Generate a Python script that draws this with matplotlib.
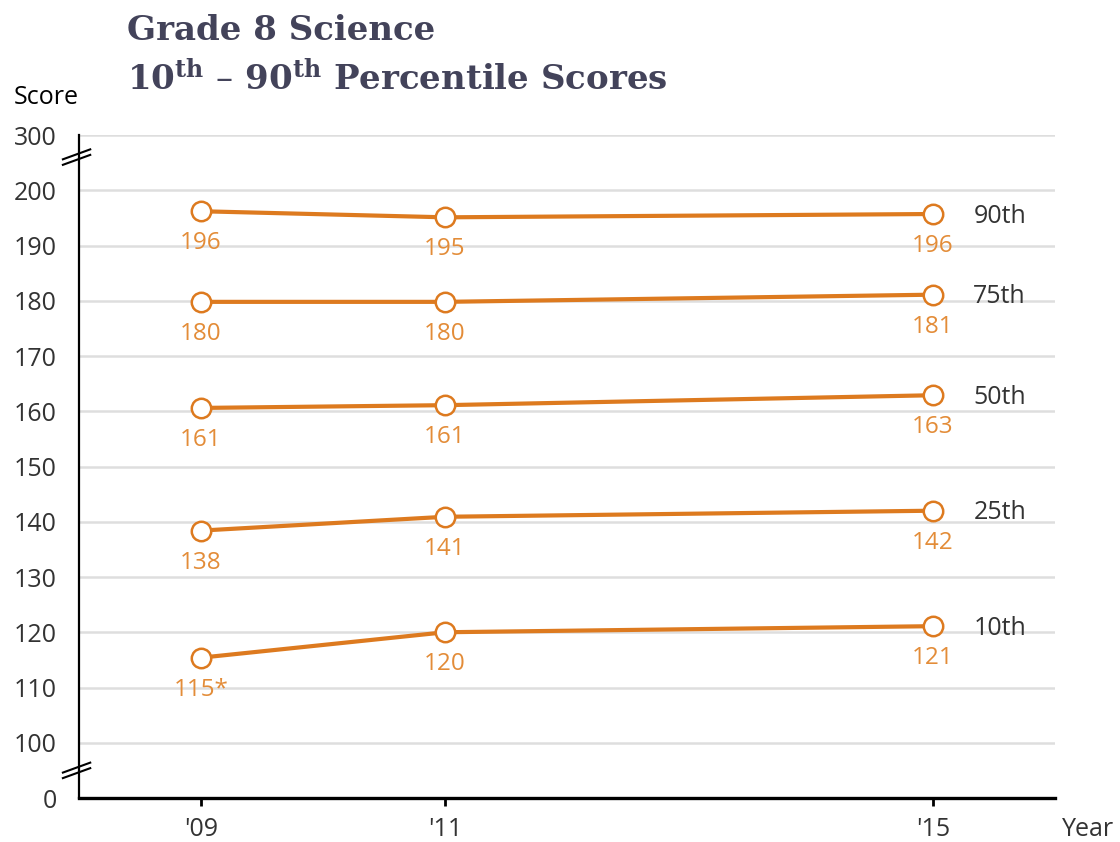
"""
Grade 8 Science -- 10th to 90th percentile scores, '09 / '11 / '15.
Broken y axis (0 .. 100 .. 200 .. 300) drawn on a linear scale.
"""

import matplotlib
matplotlib.use("Agg")
import matplotlib.pyplot as plt
from matplotlib.transforms import blended_transform_factory

# data
years = [2009, 2011, 2015]
year_labels = ["'09", "'11", "'15"]
percentiles = ["90th", "75th", "50th", "25th", "10th"]
p90 = [196.2, 195.1, 195.7]
p75 = [179.8, 179.8, 181.1]
p50 = [160.6, 161.1, 162.9]
p25 = [138.4, 140.9, 142.0]
p10 = [115.4, 120.0, 121.1]
labels90 = ["196", "195", "196"]
labels75 = ["180", "180", "181"]
labels50 = ["161", "161", "163"]
labels25 = ["138", "141", "142"]
labels10 = ["115*", "120", "121"]

# y axis: 90 stands in for 0 and 210 for 300 (axis breaks)
ytick_pos = [90, 100, 110, 120, 130, 140, 150, 160, 170, 180, 190, 200, 210]
ytick_lab = ["0", "100", "110", "120", "130", "140", "150", "160", "170",
             "180", "190", "200", "300"]

LINE = "#DD7A1F"
LABEL = "#E38C38"
DARK = "#333333"
TITLE = "#43435A"
W, H = 1120, 842

plt.rcParams["font.family"] = ["Open Sans", "DejaVu Sans"]
plt.rcParams["mathtext.fontset"] = "dejavuserif"

fig = plt.figure(figsize=(W / 100, H / 100), dpi=100)
ax = fig.add_axes([79 / W, (H - 798) / H, (1055 - 79) / W, (798 - 135) / H])

series = [p90, p75, p50, p25, p10]
series_labels = [labels90, labels75, labels50, labels25, labels10]
for name, vals, labs in zip(percentiles, series, series_labels):
    ax.plot(years, vals, color=LINE, lw=3, marker="o", ms=14,
            mfc="white", mec=LINE, mew=1.8, zorder=3, clip_on=False)
    for x, y, t in zip(years, vals, labs):
        ax.annotate(t, (x, y), xytext=(0, -23), textcoords="offset points",
                    ha="center", va="center", fontsize=17.5, color=LABEL)
    ax.annotate(name, (years[-1], vals[-1]), xytext=(29, -1.5),
                textcoords="offset points", ha="left", va="center",
                fontsize=18, color=DARK)

ax.set_xlim(2008, 2016)
ax.set_ylim(90, 210)
ax.set_xticks(years, year_labels)
ax.set_yticks(ytick_pos, ytick_lab)
ax.tick_params(axis="x", length=6, width=2, color="black", pad=8,
               labelsize=18, labelcolor=DARK)
ax.tick_params(axis="y", length=0, pad=16, labelsize=18, labelcolor=DARK)
ax.grid(axis="y", color="#DEDEDE", lw=1.8)
ax.set_axisbelow(True)
for s in ["top", "right"]:
    ax.spines[s].set_visible(False)
ax.spines["left"].set_linewidth(1.6)
ax.spines["bottom"].set_linewidth(2.4)

# axis break marks
tr = blended_transform_factory(ax.transAxes, ax.transData)
for yb in [206, 95]:
    for off in [-0.5, 0.5]:
        ax.plot([-0.0165, 0.0115], [yb + off - 0.9, yb + off + 0.9],
                color="black", lw=1.5, transform=tr, clip_on=False, zorder=4)

# titles and axis names
fig.text(127 / W, 1 - 40 / H, "Grade 8 Science", fontsize=24.5,
         fontweight="bold", family="DejaVu Serif", color=TITLE, va="baseline")
fig.text(127 / W, 1 - 90 / H,
         r"10$^{\mathbf{th}}$ – 90$^{\mathbf{th}}$ Percentile Scores",
         fontsize=24.5, fontweight="bold", family="DejaVu Serif", color=TITLE,
         va="baseline")
fig.text(14 / W, 1 - 98 / H, "Score", fontsize=18, color="black", va="center")
fig.text(1062 / W, 1 - 830 / H, "Year", fontsize=18, color=DARK, va="center")

fig.savefig("out.png", dpi=100)
